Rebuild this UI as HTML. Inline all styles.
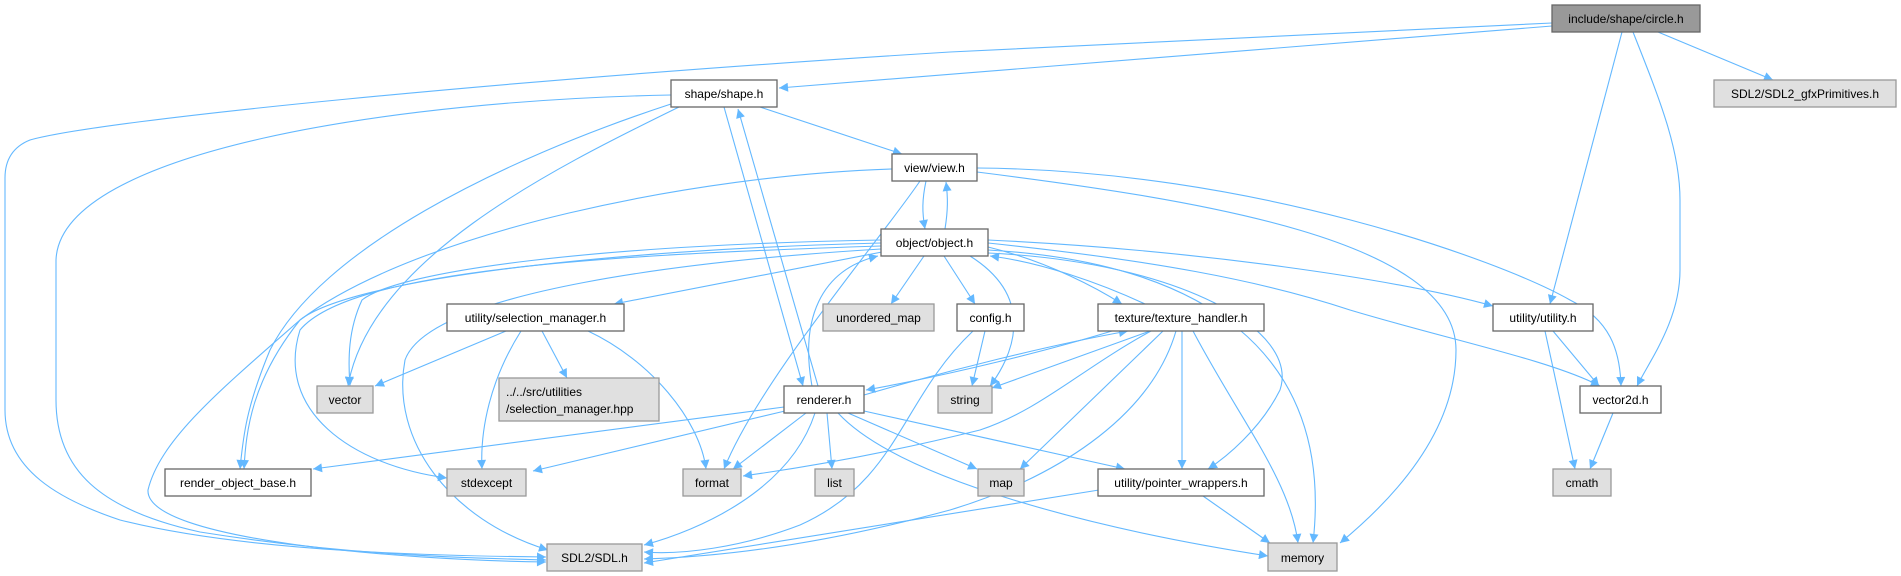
<!DOCTYPE html>
<html><head><meta charset="utf-8"><style>
html,body{margin:0;padding:0;background:#fff;width:1901px;height:576px;overflow:hidden}
svg text{font-family:"Liberation Sans",sans-serif;font-size:12px;fill:#000}
</style></head><body>
<svg width="1901" height="576" viewBox="0 0 1901 576" xmlns="http://www.w3.org/2000/svg">
<defs>
<marker id="a" viewBox="0 0 10 10" refX="10" refY="5" markerWidth="11" markerHeight="9" markerUnits="userSpaceOnUse" orient="auto">
<path d="M0,0 L10,5 L0,10 z" fill="#63b8ff"/></marker>
</defs>
<g fill="none" stroke="#63b8ff" stroke-width="1.1" marker-end="url(#a)">
<path d="M1552,23 L950,52 C500,80 100,120 30,140 Q5,150 5,178 L5,410 C5,470 60,500 120,520 C250,553 450,556 546,557"/>
<path d="M1552,26 L779,88"/>
<path d="M1658,32 L1773,80"/>
<path d="M1622,32 L1550,304"/>
<path d="M1633,32 C1660,100 1680,150 1680,200 L1680,270 C1680,320 1650,360 1637,386"/>
<path d="M760,107 L902,154"/>
<path d="M671,95 C400,100 60,150 56,260 L56,400 C56,470 100,510 200,532 C350,556 470,558 546,560"/>
<path d="M679,107 C550,170 370,260 348,386"/>
<path d="M671,104 C500,160 320,250 270,350 C245,410 243,440 240,469"/>
<path d="M724,107 L803,386"/>
<path d="M818,386 L738,109"/>
<path d="M926,181 C922,200 922,212 925,229"/>
<path d="M945,229 C948,210 948,198 946,182"/>
<path d="M892,169 C700,175 420,230 300,320 C220,390 160,440 148,490 C145,540 400,560 546,562"/>
<path d="M920,181 C880,240 760,380 724,469"/>
<path d="M977,172 C1200,200 1456,240 1456,350 C1456,440 1380,510 1340,543"/>
<path d="M977,168 C1250,170 1500,260 1570,300 C1610,320 1620,350 1621,386"/>
<path d="M882,252 L614,304"/>
<path d="M924,256 L891,304"/>
<path d="M944,256 L975,304"/>
<path d="M970,256 C1040,300 1010,360 990,386"/>
<path d="M988,247 C1050,262 1100,290 1122,304"/>
<path d="M1145,304 C1100,283 1040,262 990,256"/>
<path d="M988,240 C1200,250 1400,280 1493,306"/>
<path d="M988,243 C1150,260 1260,280 1350,310 C1450,340 1550,360 1600,386"/>
<path d="M988,250 C1200,262 1335,350 1313,543"/>
<path d="M988,253 C1180,262 1300,330 1280,390 C1260,430 1225,458 1208,469"/>
<path d="M881,240 C600,245 400,270 362,300 C348,330 348,360 350,386"/>
<path d="M881,243 C600,250 350,280 300,320 C252,380 246,430 244,469"/>
<path d="M881,246 C600,255 350,270 300,330 C275,410 350,465 447,478"/>
<path d="M881,249 C700,260 430,290 405,360 C390,440 450,520 548,550"/>
<path d="M812,386 C800,320 820,270 878,256"/>
<path d="M506,331 L375,386"/>
<path d="M521,331 C490,380 480,430 482,469"/>
<path d="M542,331 L567,378"/>
<path d="M588,331 C650,360 700,420 706,469"/>
<path d="M784,407 L313,469"/>
<path d="M785,411 L533,471"/>
<path d="M806,413 L733,469"/>
<path d="M827,413 L832,469"/>
<path d="M815,413 C790,490 700,530 644,545"/>
<path d="M848,413 L977,469"/>
<path d="M838,413 C900,480 1100,530 1268,556"/>
<path d="M864,411 L1125,469"/>
<path d="M864,395 C950,370 1050,345 1128,331"/>
<path d="M1112,331 C1050,350 950,375 866,390"/>
<path d="M1150,331 L992,388"/>
<path d="M1151,331 C1080,370 1040,410 980,430 C880,455 800,468 743,476"/>
<path d="M1163,331 L1020,469"/>
<path d="M1176,331 C1150,420 1050,480 950,510 C820,545 720,557 644,559"/>
<path d="M1182,331 L1182,469"/>
<path d="M1193,331 C1240,420 1290,480 1298,543"/>
<path d="M985,331 L972,386"/>
<path d="M973,331 C900,400 900,480 800,525 C740,548 680,555 644,552"/>
<path d="M1553,331 L1599,386"/>
<path d="M1545,331 L1575,469"/>
<path d="M1613,413 L1590,469"/>
<path d="M1099,490 L644,563"/>
<path d="M1203,496 L1270,543"/>
</g>
<g stroke-width="1.3">
<rect x="1552" y="5" width="148" height="27" fill="#999" stroke="#666"/>
<rect x="1714" y="80" width="182" height="27" fill="#e0e0e0" stroke="#999"/>
<rect x="671" y="80" width="106" height="27" fill="#fff" stroke="#666"/>
<rect x="892" y="154" width="85" height="27" fill="#fff" stroke="#666"/>
<rect x="881" y="229" width="107" height="27" fill="#fff" stroke="#666"/>
<rect x="447" y="304" width="177" height="27" fill="#fff" stroke="#666"/>
<rect x="823" y="304" width="111" height="27" fill="#e0e0e0" stroke="#999"/>
<rect x="957" y="304" width="67" height="27" fill="#fff" stroke="#666"/>
<rect x="1098" y="304" width="166" height="27" fill="#fff" stroke="#666"/>
<rect x="1493" y="304" width="100" height="27" fill="#fff" stroke="#666"/>
<rect x="317" y="386" width="56" height="27" fill="#e0e0e0" stroke="#999"/>
<rect x="499" y="378" width="160" height="43" fill="#e0e0e0" stroke="#999"/>
<rect x="784" y="386" width="80" height="27" fill="#fff" stroke="#666"/>
<rect x="938" y="386" width="54" height="27" fill="#e0e0e0" stroke="#999"/>
<rect x="1580" y="386" width="81" height="27" fill="#fff" stroke="#666"/>
<rect x="165" y="469" width="146" height="27" fill="#fff" stroke="#666"/>
<rect x="447" y="469" width="79" height="27" fill="#e0e0e0" stroke="#999"/>
<rect x="683" y="469" width="58" height="27" fill="#e0e0e0" stroke="#999"/>
<rect x="815" y="469" width="39" height="27" fill="#e0e0e0" stroke="#999"/>
<rect x="978" y="469" width="46" height="27" fill="#e0e0e0" stroke="#999"/>
<rect x="1098" y="469" width="166" height="27" fill="#fff" stroke="#666"/>
<rect x="1553" y="469" width="58" height="27" fill="#e0e0e0" stroke="#999"/>
<rect x="547" y="544" width="95" height="27" fill="#e0e0e0" stroke="#999"/>
<rect x="1268" y="543" width="69" height="28" fill="#e0e0e0" stroke="#999"/>
</g>
<g text-anchor="middle">
<text x="1626" y="23">include/shape/circle.h</text>
<text x="1805" y="98">SDL2/SDL2_gfxPrimitives.h</text>
<text x="724" y="98">shape/shape.h</text>
<text x="934.5" y="172">view/view.h</text>
<text x="934.5" y="247">object/object.h</text>
<text x="535.5" y="322">utility/selection_manager.h</text>
<text x="878.5" y="322">unordered_map</text>
<text x="990.5" y="322">config.h</text>
<text x="1181" y="322">texture/texture_handler.h</text>
<text x="1543" y="322">utility/utility.h</text>
<text x="345" y="404">vector</text>
<text x="824" y="404">renderer.h</text>
<text x="965" y="404">string</text>
<text x="1620.5" y="404">vector2d.h</text>
<text x="238" y="487">render_object_base.h</text>
<text x="486.5" y="487">stdexcept</text>
<text x="712" y="487">format</text>
<text x="834.5" y="487">list</text>
<text x="1001" y="487">map</text>
<text x="1181" y="487">utility/pointer_wrappers.h</text>
<text x="1582" y="487">cmath</text>
<text x="594.5" y="562">SDL2/SDL.h</text>
<text x="1302.5" y="562">memory</text>
</g>
<text x="506" y="396">../../src/utilities</text>
<text x="506" y="413">/selection_manager.hpp</text>
</svg>
</body></html>
